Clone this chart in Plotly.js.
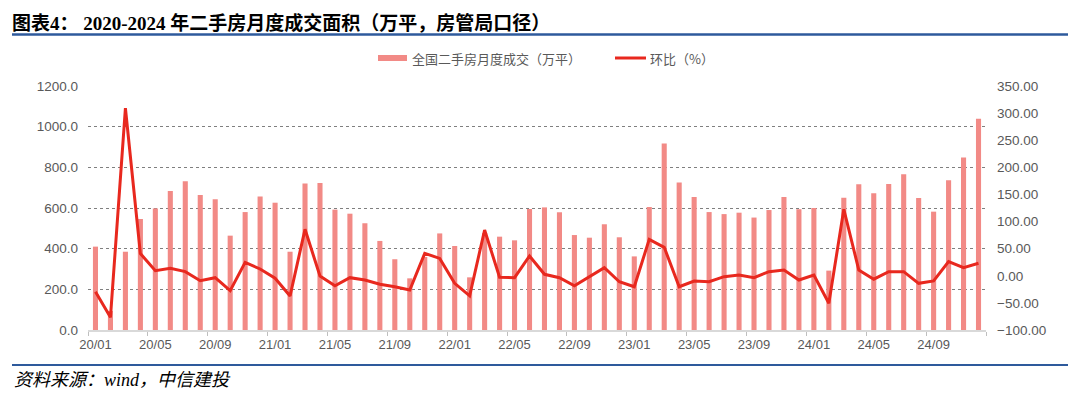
<!DOCTYPE html>
<html>
<head>
<meta charset="utf-8">
<script src="https://cdn.plot.ly/plotly-3.0.1.min.js"></script>
<style>
  html, body { margin: 0; padding: 0; background: #ffffff; }
  #chart { width: 1080px; height: 398px; }
</style>
</head>
<body>
<div id="chart"></div>
<script>
// Categories (month labels)
var months = [
  '20/01','20/02','20/03','20/04','20/05','20/06','20/07','20/08','20/09','20/10','20/11','20/12',
  '21/01','21/02','21/03','21/04','21/05','21/06','21/07','21/08','21/09','21/10','21/11','21/12',
  '22/01','22/02','22/03','22/04','22/05','22/06','22/07','22/08','22/09','22/10','22/11','22/12',
  '23/01','23/02','23/03','23/04','23/05','23/06','23/07','23/08','23/09','23/10','23/11','23/12',
  '24/01','24/02','24/03','24/04','24/05','24/06','24/07','24/08','24/09','24/10','24/11','24/12'
];

// 全国二手房月度成交（万平）
var area = [
  410, 94, 385, 546, 598, 683, 731, 664, 643, 464, 580, 657,
  626, 385, 720, 723, 592, 572, 525, 438, 348, 254, 359, 475,
  413, 259, 477, 459, 441, 595, 603, 579, 467, 454, 520, 456,
  362, 605, 917, 725, 654, 580, 570, 577, 553, 590, 654, 594,
  600, 292, 651, 717, 672, 718, 766, 649, 582, 736, 848, 1039
];

// 环比（%）
var mom = [
  -29.4, -76.6, 309, 41, 9.4, 13.8, 7.6, -9.1, -3.5, -27.6, 24.8, 12.5,
  -4.6, -37.3, 85.7, -0.4, -18.3, -3.5, -7.8, -15.7, -20.2, -26.2, 41.4, 32,
  -13.9, -37, 84.4, -2.8, -3.5, 36.5, 2.7, -3.5, -18.6, -1.7, 14.9, -11,
  -20.2, 67.2, 52.5, -20.2, -9.6, -11, -1.7, 1.4, -3.5, 7.6, 10.7, -7.8,
  1.4, -50.8, 122.6, 10.7, -6.3, 7.6, 7.6, -13.9, -9.6, 26, 14.9, 23
];

var seriesNames = ['全国二手房月度成交（万平）', '环比（%）'];
var titleText = '图表4：&nbsp;2020-2024 年二手房月度成交面积（万平，房管局口径）';
var sourceText = '资料来源：wind，中信建投';

var barColor = '#F28A86';
var lineColor = '#E8281E';
var blue = '#2E5A9C';
var tickFont = { family: 'Liberation Sans, Arial, sans-serif', size: 13.5, color: '#595959' };

// plot area geometry (pixels) for paper-coordinate helpers
var L = 88, R = 986, T = 86, B = 330;
function px(x) { return (x - L) / (R - L); }
function py(y) { return (B - y) / (B - T); }

var traces = [
  {
    type: 'bar', name: seriesNames[0], x: months, y: area,
    marker: { color: barColor }, yaxis: 'y', showlegend: false,
    hoverinfo: 'x+y'
  },
  {
    type: 'scatter', mode: 'lines', name: seriesNames[1], x: months, y: mom,
    line: { color: lineColor, width: 3 }, yaxis: 'y2', showlegend: false,
    hoverinfo: 'x+y'
  }
];

var layout = {
  width: 1080, height: 398,
  margin: { l: L, r: 1080 - R, t: T, b: 398 - B },
  paper_bgcolor: '#ffffff', plot_bgcolor: '#ffffff',
  bargap: 0.66,
  showlegend: false,
  title: {
    text: '<b>' + titleText + '</b>',
    xref: 'container', yref: 'container',
    x: 12 / 1080, xanchor: 'left',
    y: 1 - 23 / 398, yanchor: 'middle',
    font: { family: 'Liberation Serif, Noto Sans CJK SC, serif', size: 19, color: '#000000' }
  },
  xaxis: {
    type: 'category',
    tickmode: 'linear', tick0: 0, dtick: 4,
    tickson: 'boundaries',
    tickangle: 0,
    ticks: 'outside', ticklen: 4, tickcolor: '#BFBFBF', tickwidth: 1,
    showline: true, linecolor: '#D9D9D9', linewidth: 1.5,
    showgrid: false, zeroline: false,
    tickfont: { family: 'Liberation Sans, Arial, sans-serif', size: 13, color: '#595959' },
    ticklabelstandoff: 2,
    range: [-0.5, 59.5]
  },
  yaxis: {
    range: [0, 1200], tickmode: 'linear', tick0: 0, dtick: 200,
    tickformat: '.1f',
    showgrid: true, gridcolor: '#7F7F7F', gridwidth: 1, griddash: 'dot',
    zeroline: false, showline: false, ticks: '',
    tickfont: tickFont, ticklabelstandoff: 9
  },
  yaxis2: {
    overlaying: 'y', side: 'right',
    range: [-100, 350], tickmode: 'linear', tick0: -100, dtick: 50,
    tickformat: '.2f',
    showgrid: false, zeroline: false, showline: false, ticks: '',
    tickfont: tickFont, ticklabelstandoff: 10
  },
  shapes: [
    // header rule
    { type: 'line', xref: 'paper', yref: 'paper', x0: px(12), x1: px(1068), y0: py(34.5), y1: py(34.5),
      line: { color: blue, width: 2.5 } },
    // footer rule
    { type: 'line', xref: 'paper', yref: 'paper', x0: px(12), x1: px(1068), y0: py(365), y1: py(365),
      line: { color: blue, width: 2 } },
    // legend swatch: bar
    { type: 'rect', xref: 'paper', yref: 'paper', x0: px(378), x1: px(407), y0: py(55), y1: py(61),
      fillcolor: barColor, line: { width: 0 } },
    // legend swatch: line
    { type: 'line', xref: 'paper', yref: 'paper', x0: px(615), x1: px(646), y0: py(58), y1: py(58),
      line: { color: lineColor, width: 3 } }
  ],
  annotations: [
    { xref: 'paper', yref: 'paper', x: px(410), y: py(58), xanchor: 'left', yanchor: 'middle',
      text: seriesNames[0], showarrow: false,
      font: { family: 'Noto Sans CJK SC, sans-serif', size: 13, color: '#595959' } },
    { xref: 'paper', yref: 'paper', x: px(648), y: py(58), xanchor: 'left', yanchor: 'middle',
      text: seriesNames[1], showarrow: false,
      font: { family: 'Noto Sans CJK SC, sans-serif', size: 13, color: '#595959' } },
    { xref: 'paper', yref: 'paper', x: px(12), y: py(380), xanchor: 'left', yanchor: 'middle',
      text: '<i>' + sourceText + '</i>', showarrow: false,
      font: { family: 'Liberation Serif, Noto Sans CJK SC, serif', size: 18, color: '#000000' } }
  ]
};

Plotly.newPlot('chart', traces, layout, { displayModeBar: false, staticPlot: true });
</script>
</body>
</html>
